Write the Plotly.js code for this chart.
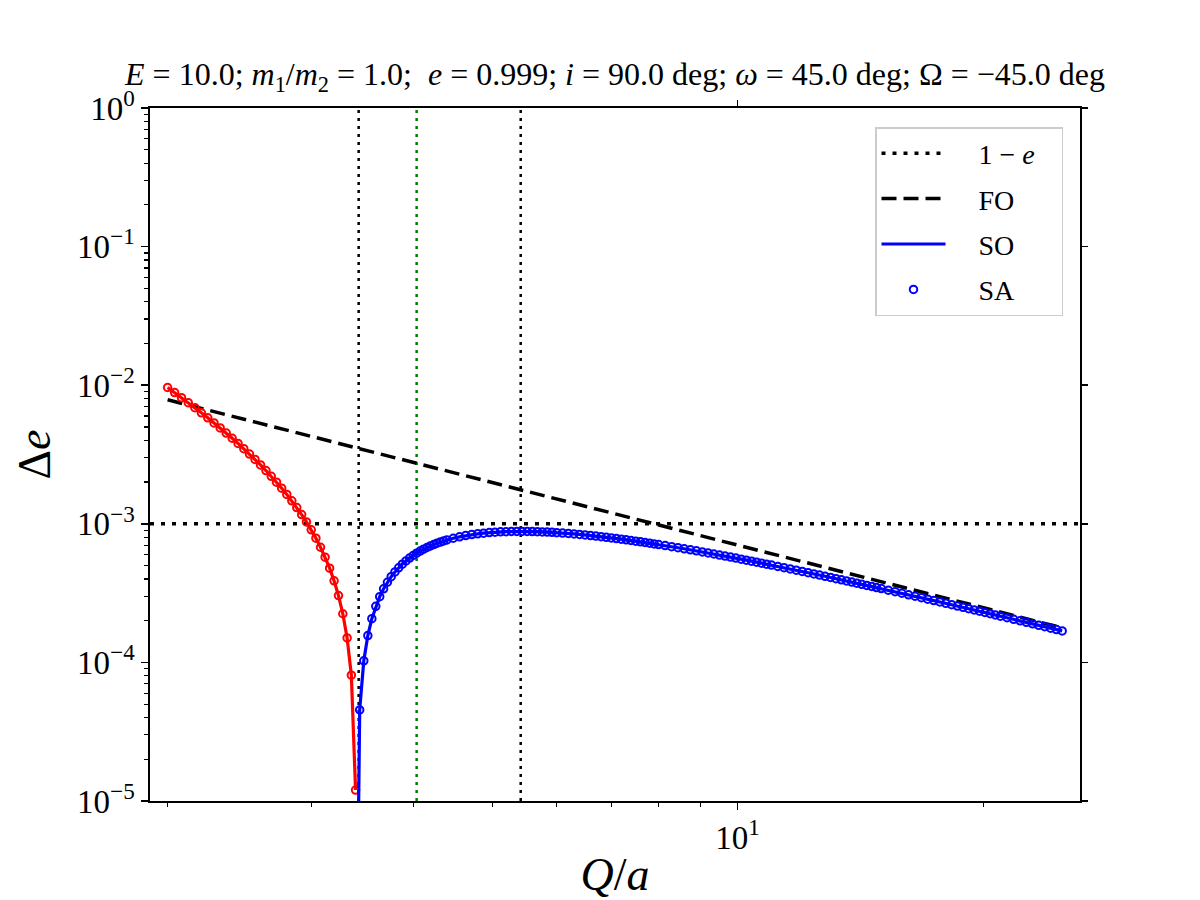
<!DOCTYPE html>
<html>
<head>
<meta charset="utf-8">
<script src="https://cdn.plot.ly/plotly-3.0.1.min.js"></script>
<style>
  html, body { margin: 0; padding: 0; background: #fff; }
  #chart { width: 1200px; height: 900px; }
</style>
</head>
<body>
<div id="chart"></div>
<script>
// Negative branch of the second-order change (plotted as |Δe|), Q/a from 2 to 3.4
const qNeg = [2.00, 2.04, 2.08, 2.12, 2.16, 2.20, 2.24, 2.28, 2.32, 2.36, 2.40, 2.44,
  2.48, 2.52, 2.56, 2.60, 2.64, 2.68, 2.72, 2.76, 2.80, 2.84, 2.88, 2.92, 2.96, 3.00,
  3.04, 3.08, 3.12, 3.16, 3.20, 3.24, 3.28, 3.32, 3.36, 3.40];
const dENeg = [9.625e-3, 8.847e-3, 8.134e-3, 7.480e-3, 6.878e-3, 6.325e-3, 5.816e-3,
  5.346e-3, 4.913e-3, 4.512e-3, 4.142e-3, 3.799e-3, 3.481e-3, 3.186e-3, 2.912e-3,
  2.658e-3, 2.422e-3, 2.202e-3, 1.998e-3, 1.807e-3, 1.630e-3, 1.464e-3, 1.310e-3,
  1.166e-3, 1.031e-3, 9.051e-4, 7.875e-4, 6.775e-4, 5.745e-4, 4.782e-4, 3.880e-4,
  3.035e-4, 2.244e-4, 1.502e-4, 8.08e-5, 1.2e-5];

// Positive branch, Q/a from 3.42 (just past the sign change) to 25
const qPos = [3.42, 3.44, 3.48, 3.52, 3.56, 3.60, 3.64, 3.68, 3.72, 3.76, 3.80, 3.84, 3.88,
  3.92, 3.96, 4.00, 4.04, 4.08, 4.12, 4.16, 4.20, 4.24, 4.28, 4.32, 4.36, 4.40,
  4.48, 4.56, 4.64, 4.72, 4.80, 4.88, 4.96, 5.04, 5.12, 5.20, 5.28, 5.36, 5.44, 5.52,
  5.60, 5.68, 5.76, 5.84, 5.92, 6.00,
  6.10, 6.20, 6.30, 6.40, 6.50, 6.60, 6.70, 6.80, 6.90, 7.00, 7.10, 7.20, 7.30, 7.40,
  7.50, 7.60, 7.70, 7.80, 7.90, 8.00,
  8.15, 8.30, 8.45, 8.60, 8.75, 8.90, 9.05, 9.20, 9.35, 9.50, 9.65, 9.80, 9.95, 10.10,
  10.25, 10.40, 10.55, 10.70, 10.85, 11.00,
  11.2, 11.4, 11.6, 11.8, 12.0, 12.2, 12.4, 12.6, 12.8, 13.0, 13.2, 13.4, 13.6, 13.8,
  14.0, 14.2, 14.4, 14.6, 14.8, 15.0,
  15.3, 15.6, 15.9, 16.2, 16.5, 16.8, 17.1, 17.4, 17.7, 18.0, 18.3, 18.6, 18.9, 19.2,
  19.5, 19.8, 20.1, 20.4, 20.7, 21.0,
  21.4, 21.8, 22.2, 22.6, 23.0, 23.4, 23.8, 24.2, 24.6, 25.0];
const dEPos = [2e-6, 4.54e-5, 1.027e-4, 1.563e-4, 2.067e-4, 2.539e-4, 2.981e-4, 3.396e-4,
  3.786e-4, 4.151e-4, 4.493e-4, 4.814e-4, 5.115e-4, 5.396e-4, 5.660e-4, 5.907e-4,
  6.139e-4, 6.355e-4, 6.557e-4, 6.746e-4, 6.923e-4, 7.088e-4, 7.242e-4, 7.385e-4,
  7.518e-4, 7.643e-4,
  7.865e-4, 8.055e-4, 8.218e-4, 8.355e-4, 8.470e-4, 8.564e-4, 8.641e-4, 8.701e-4,
  8.747e-4, 8.780e-4, 8.801e-4, 8.812e-4, 8.813e-4, 8.806e-4, 8.792e-4, 8.771e-4,
  8.744e-4, 8.712e-4, 8.675e-4, 8.633e-4,
  8.576e-4, 8.515e-4, 8.449e-4, 8.379e-4, 8.306e-4, 8.230e-4, 8.153e-4, 8.074e-4,
  7.993e-4, 7.911e-4, 7.829e-4, 7.746e-4, 7.662e-4, 7.578e-4, 7.495e-4, 7.411e-4,
  7.328e-4, 7.245e-4, 7.163e-4, 7.081e-4,
  6.959e-4, 6.839e-4, 6.721e-4, 6.605e-4, 6.490e-4, 6.378e-4, 6.268e-4, 6.160e-4,
  6.055e-4, 5.951e-4, 5.850e-4, 5.751e-4, 5.654e-4, 5.559e-4, 5.467e-4, 5.376e-4,
  5.288e-4, 5.202e-4, 5.117e-4, 5.035e-4,
  4.928e-4, 4.824e-4, 4.723e-4, 4.626e-4, 4.531e-4, 4.440e-4, 4.351e-4, 4.265e-4,
  4.181e-4, 4.100e-4, 4.021e-4, 3.945e-4, 3.870e-4, 3.799e-4, 3.728e-4, 3.661e-4,
  3.594e-4, 3.530e-4, 3.468e-4, 3.407e-4,
  3.319e-4, 3.235e-4, 3.154e-4, 3.076e-4, 3.001e-4, 2.929e-4, 2.860e-4, 2.793e-4,
  2.729e-4, 2.667e-4, 2.608e-4, 2.550e-4, 2.495e-4, 2.441e-4, 2.390e-4, 2.340e-4,
  2.291e-4, 2.245e-4, 2.200e-4, 2.156e-4,
  2.100e-4, 2.046e-4, 1.995e-4, 1.945e-4, 1.898e-4, 1.852e-4, 1.808e-4, 1.766e-4,
  1.726e-4, 1.687e-4];

// First-order estimate (a straight power law on these axes)
const qFO = [2.0, 5.0, 10.0, 25.0];
const dEFO = [7.85e-3, 1.986e-3, 7.02e-4, 1.776e-4];

// Reference level 1 - e and marked separations
const ecc = 0.999;
const oneMinusE = 1e-3;
const qMarksBlack = [3.43, 5.42];
const qMarkGreen = 4.04;

// Axis extents and tick labels
const xLimits = [1.903, 26.29];
const yLimits = [1e-5, 1];
const yTickVals = [1e-5, 1e-4, 1e-3, 1e-2, 1e-1, 1];
const yTickText = ['10<sup>−5</sup>', '10<sup>−4</sup>', '10<sup>−3</sup>',
  '10<sup>−2</sup>', '10<sup>−1</sup>', '10<sup>0</sup>'];
const xTickVals = [10];
const xTickText = ['10<sup>1</sup>'];
const xMinorVals = [2, 3, 4, 5, 6, 7, 8, 9, 20];
const yMinorVals = [];
for (let p = -5; p < 0; p++) {
  for (let m = 2; m <= 9; m++) yMinorVals.push(m * Math.pow(10, p));
}

const FONT = 'Liberation Serif, Times New Roman, serif';
const BLUE = '#0000ff';
const RED = '#ff0000';
const PADL = '\u00a0\u00a0\u00a0\u00a0';
const PADR = '\u00a0\u00a0\u00a0';

const traces = [];

// vertical markers
qMarksBlack.forEach(q => traces.push({
  x: [q, q], y: yLimits, mode: 'lines', showlegend: false, hoverinfo: 'skip',
  line: {color: '#000', width: 2.5, dash: '3px,5px'}
}));
traces.push({
  x: [qMarkGreen, qMarkGreen], y: yLimits, mode: 'lines', showlegend: false,
  hoverinfo: 'skip', line: {color: '#008000', width: 2.5, dash: '3px,5px'}
});

// 1 - e level
traces.push({
  x: xLimits, y: [oneMinusE, oneMinusE], mode: 'lines', name: PADL + '1 − <i>e</i>' + PADR,
  legendgroup: 'a', line: {color: '#000', width: 3.5, dash: '4px,7px'}
});

// FO
traces.push({
  x: qFO, y: dEFO, mode: 'lines', name: PADL + 'FO', legendgroup: 'b',
  line: {color: '#000', width: 3.5, dash: '15px,7px'}
});

// red branch
traces.push({
  x: qNeg, y: dENeg, mode: 'lines+markers', showlegend: false,
  line: {color: RED, width: 3.2},
  marker: {symbol: 'circle-open', size: 7.5, color: RED, line: {width: 2, color: RED}}
});

// SO (line)
traces.push({
  x: qPos, y: dEPos, mode: 'lines', name: PADL + 'SO', legendgroup: 'c',
  line: {color: BLUE, width: 3.2}
});

// SA (markers)
traces.push({
  x: qPos, y: dEPos, mode: 'markers', name: PADL + 'SA', legendgroup: 'd',
  marker: {symbol: 'circle-open', size: 7.5, color: BLUE, line: {width: 2, color: BLUE}}
});

// carrier for the top/right tick axes
traces.push({x: [], y: [], xaxis: 'x2', yaxis: 'y2', showlegend: false, hoverinfo: 'skip'});

const axisCommon = {
  type: 'log', showgrid: false, zeroline: false, linecolor: '#000', linewidth: 1.7,
  tickcolor: '#000', tickwidth: 1.5, ticks: 'outside'
};

const layout = {
  width: 1200, height: 900,
  paper_bgcolor: '#fff', plot_bgcolor: '#fff',
  margin: {l: 150, r: 120, t: 108, b: 99, pad: 0},
  font: {family: FONT, color: '#000'},
  title: {
    text: '<i>E</i> = 10.0; <i>m</i><sub>1</sub>/<i>m</i><sub>2</sub> = 1.0;  <i>e</i> = ' + ecc +
      '; <i>i</i> = 90.0 deg; <i>ω</i> = 45.0 deg; Ω = −45.0 deg',
    font: {family: FONT, size: 32, color: '#000'},
    x: 0.5125, xanchor: 'center', yref: 'container', y: 1 - 74 / 900, yanchor: 'middle'
  },
  xaxis: Object.assign({}, axisCommon, {
    range: xLimits.map(Math.log10), tickmode: 'array', tickvals: xTickVals,
    ticktext: xTickText, ticklen: 7, showline: true, mirror: true,
    tickfont: {family: FONT, size: 33},
    minor: {tickmode: 'array', tickvals: xMinorVals, ticks: 'outside', ticklen: 4,
      tickcolor: '#000', tickwidth: 1.2, showgrid: false},
    title: {text: '<i>Q</i>/<i>a</i>', font: {family: FONT, size: 46}, standoff: 2}
  }),
  yaxis: Object.assign({}, axisCommon, {
    range: yLimits.map(Math.log10), tickmode: 'array', tickvals: yTickVals,
    ticktext: yTickText, ticklen: 7, showline: true, mirror: true,
    tickfont: {family: FONT, size: 33},
    minor: {tickmode: 'array', tickvals: yMinorVals, ticks: 'outside', ticklen: 4,
      tickcolor: '#000', tickwidth: 1.2, showgrid: false},
    title: {text: 'Δ<i>e</i>', font: {family: FONT, size: 46}, standoff: 12}
  }),
  xaxis2: Object.assign({}, axisCommon, {
    overlaying: 'x', side: 'top', anchor: 'y2', range: xLimits.map(Math.log10),
    tickmode: 'array', tickvals: xTickVals, showticklabels: false, ticklen: 7,
    showline: false
  }),
  yaxis2: Object.assign({}, axisCommon, {
    overlaying: 'y', side: 'right', anchor: 'x2', range: yLimits.map(Math.log10),
    tickmode: 'array', tickvals: yTickVals, showticklabels: false, ticklen: 7,
    showline: false
  }),
  showlegend: true,
  legend: {
    x: (1063 - 150) / 930, xanchor: 'right', y: (801 - 127) / 693, yanchor: 'top',
    bgcolor: 'rgba(255,255,255,0.8)', bordercolor: '#cccccc', borderwidth: 1.5,
    font: {family: FONT, size: 28, color: '#000'},
    traceorder: 'grouped', tracegroupgap: 6, itemwidth: 64
  }
};

Plotly.newPlot('chart', traces, layout, {staticPlot: true, displayModeBar: false});
</script>
</body>
</html>
